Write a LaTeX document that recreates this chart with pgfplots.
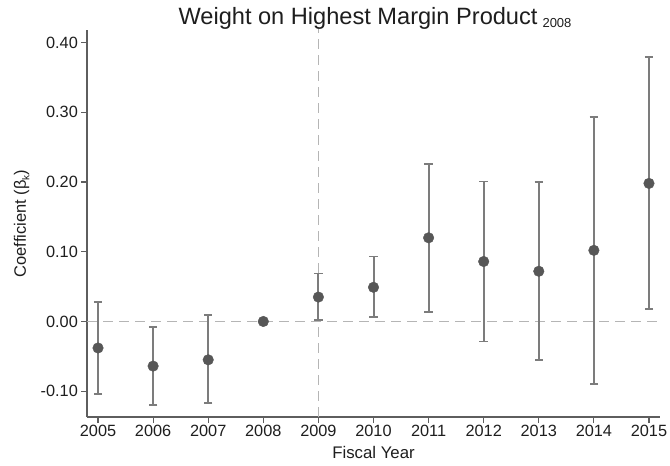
\documentclass[border=0pt]{standalone}
\usepackage{pgfplots}
\pgfplotsset{compat=1.18}
\usepackage{fontspec}
\setmainfont{Liberation Sans}
\definecolor{mk}{HTML}{575757}
\definecolor{eb}{HTML}{7C7C7C}
\definecolor{ax}{HTML}{5E5E5E}
\definecolor{dl}{HTML}{B5B5B5}
\definecolor{tx}{HTML}{1E1E1E}
\begin{document}
\begin{tikzpicture}[x=1bp,y=1bp]
\useasboundingbox (-87bp,-49bp) rectangle (583bp,417bp);
\begin{axis}[
  at={(0bp,0bp)}, anchor=south west,
  scale only axis, width=573bp, height=387bp,
  xmin=2004.8, xmax=2015.2, ymin=-0.137, ymax=0.418,
  axis x line*=bottom, axis y line*=left,
  axis line style={draw=ax, line width=1.3bp},
  every tick/.style={draw=ax, line width=1.2bp},
  tick align=outside, major tick length=6bp,
  xtick={2005,2006,2007,2008,2009,2010,2011,2012,2013,2014,2015},
  xticklabels={2005,2006,2007,2008,2009,2010,2011,2012,2013,2014,2015},
  ytick={-0.1,0,0.1,0.2,0.3,0.4},
  yticklabels={-0.10,0.00,0.10,0.20,0.30,0.40},
  ticklabel style={font=\fontsize{16.3bp}{19bp}\selectfont, text=tx},
  xticklabel style={inner sep=2bp},
  yticklabel style={inner sep=3bp},
  clip=false,
]
\addplot[dl, line width=1.4bp, dash pattern=on 10bp off 6bp] coordinates {(2004.8,0) (2015.2,0)};
\addplot[dl, line width=1.4bp, dash pattern=on 10bp off 6bp] coordinates {(2009,-0.137) (2009,0.422)};
\addplot[draw=none, mark=none,
  error bars/.cd, y dir=both, y explicit,
  error bar style={eb, line width=2bp},
  error mark options={rotate=90, mark size=4.2bp, eb, line width=1.6bp}]
  table[x=x, y=y, y error plus=ep, y error minus=em] {
x y ep em
2005 -0.038 0.066 0.066
2006 -0.064 0.056 0.056
2007 -0.055 0.064 0.062
2009 0.035 0.034 0.033
2010 0.049 0.044 0.043
2011 0.120 0.106 0.106
2012 0.086 0.115 0.115
2013 0.072 0.128 0.127
2014 0.102 0.191 0.192
2015 0.198 0.181 0.180
};
\addplot[only marks, mark=*, mark size=5.3bp, mk, mark options={draw=mk, fill=mk}]
  table[x=x, y=y] {
x y
2005 -0.038
2006 -0.064
2007 -0.055
2008 0.000
2009 0.035
2010 0.049
2011 0.120
2012 0.086
2013 0.072
2014 0.102
2015 0.198
};
\end{axis}
\node[anchor=base, text=tx, font=\fontsize{23.6bp}{26bp}\selectfont] at (288bp,441bp-49bp)
  {Weight on Highest Margin Product\hspace{5bp}\raisebox{-2.5bp}{\fontsize{13bp}{14bp}\selectfont 2008}};
\node[anchor=base, text=tx, font=\fontsize{16.8bp}{19bp}\selectfont] at (286.5bp,-41bp) {Fiscal Year};
\node[rotate=90, anchor=base, text=tx, font=\fontsize{16.5bp}{19bp}\selectfont] at (-61bp,193.5bp)
  {Coefficient (β\raisebox{-0.4ex}{\fontsize{10bp}{11bp}\selectfont k})};
\end{tikzpicture}
\end{document}
